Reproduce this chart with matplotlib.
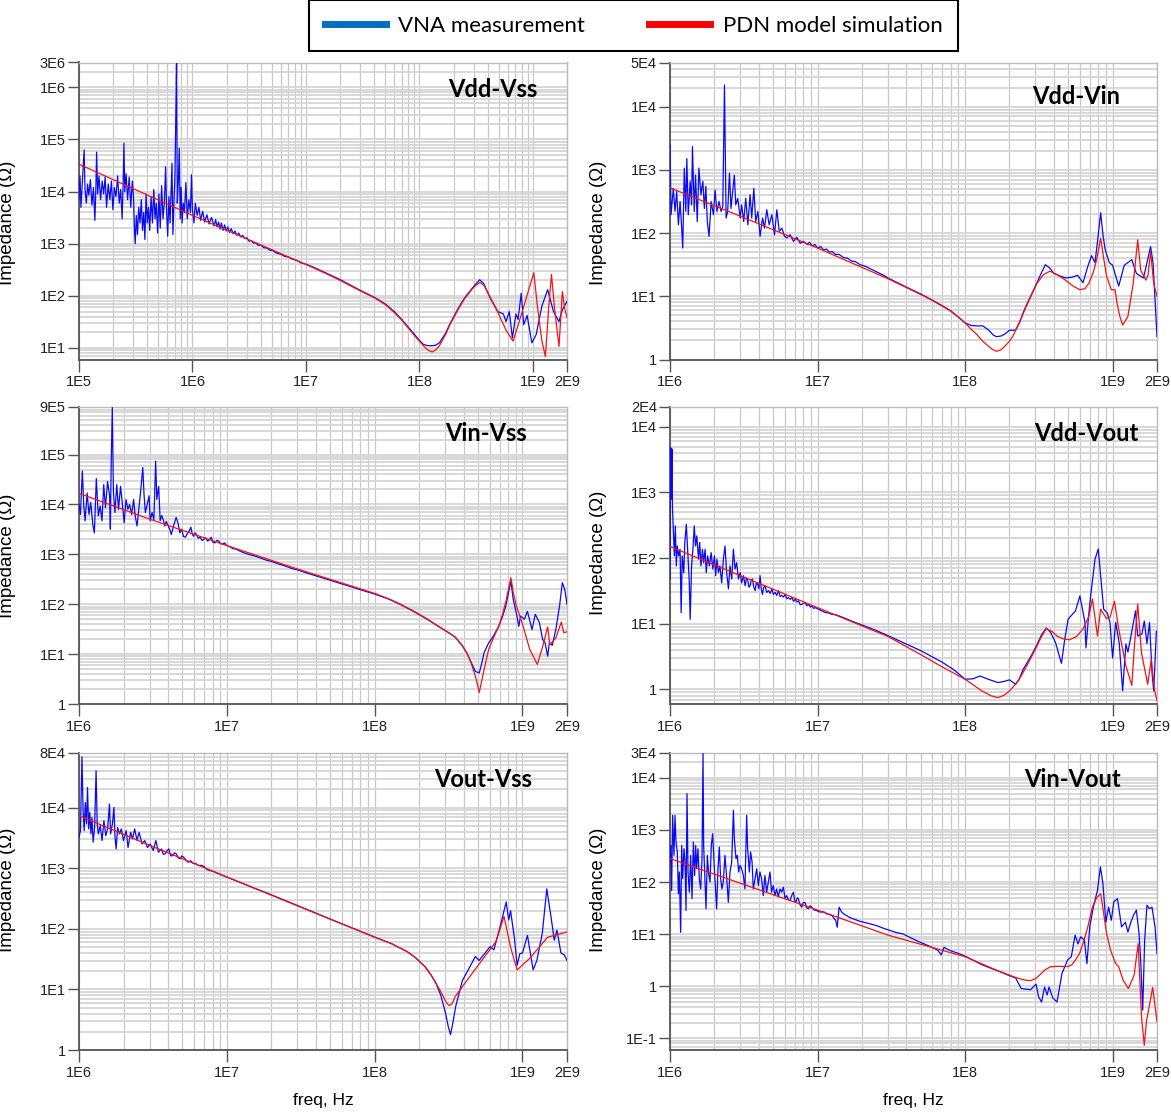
"""Impedance vs frequency: VNA measurement vs PDN model, six port pairs."""

import numpy as np
import matplotlib
matplotlib.use("Agg")
import matplotlib.pyplot as plt  # noqa: E402
from matplotlib.lines import Line2D  # noqa: E402
from matplotlib.ticker import FixedLocator, FuncFormatter, LogLocator, NullFormatter  # noqa: E402

# ---- data: (freq Hz, impedance Ohm) ----
VDD_VSS_MEAS = [
    (1.00e5, 7.0e3), (1.02e5, 2.0e4), (1.04e5, 5.0e3), (1.07e5, 1.5e4), (1.11e5, 6.3e4),
    (1.13e5, 1.1e4), (1.16e5, 6.0e3), (1.19e5, 1.4e4), (1.22e5, 8.5e3), (1.26e5, 1.7e4),
    (1.30e5, 5.5e3), (1.34e5, 1.2e4), (1.38e5, 2.8e3), (1.41e5, 1.3e4), (1.43e5, 5.7e4),
    (1.46e5, 9.0e3), (1.50e5, 2.0e4), (1.55e5, 7.0e3), (1.60e5, 1.6e4), (1.65e5, 9.0e3),
    (1.70e5, 1.9e4), (1.75e5, 5.0e3), (1.81e5, 1.4e4), (1.87e5, 7.0e3), (1.93e5, 1.6e4),
    (1.99e5, 4.5e3), (2.05e5, 1.2e4), (2.12e5, 8.0e3), (2.19e5, 2.0e4), (2.26e5, 6.0e3),
    (2.33e5, 1.1e4), (2.40e5, 3.0e3), (2.45e5, 1.5e4), (2.49e5, 8.5e4), (2.53e5, 1.0e4),
    (2.60e5, 2.2e4), (2.68e5, 7.0e3), (2.77e5, 1.9e4), (2.86e5, 5.0e3), (2.95e5, 1.6e4),
    (3.02e5, 8.0e3), (3.08e5, 2.0e3), (3.13e5, 1.0e3), (3.20e5, 3.5e3), (3.28e5, 1.5e3),
    (3.36e5, 5.0e3), (3.45e5, 2.5e3), (3.54e5, 7.0e3), (3.63e5, 1.8e3), (3.72e5, 4.0e3),
    (3.81e5, 1.2e3), (3.90e5, 9.0e3), (4.00e5, 2.5e3), (4.10e5, 5.0e3), (4.20e5, 1.8e3),
    (4.32e5, 8.0e3), (4.44e5, 2.5e3), (4.56e5, 1.1e4), (4.68e5, 3.0e3), (4.80e5, 6.0e3),
    (4.93e5, 1.6e3), (5.06e5, 9.0e3), (5.20e5, 2.0e3), (5.35e5, 1.3e4), (5.50e5, 3.0e3),
    (5.65e5, 6.0e3), (5.80e5, 3.0e4), (5.92e5, 4.0e3), (6.05e5, 1.4e3), (6.20e5, 8.0e3),
    (6.35e5, 2.5e3), (6.50e5, 1.2e4), (6.60e5, 3.5e4), (6.72e5, 1.5e3), (6.85e5, 5.0e3),
    (7.00e5, 2.0e4), (7.15e5, 3.4e5), (7.25e5, 3.0e6), (7.35e5, 6.0e3), (7.50e5, 1.5e4),
    (7.65e5, 6.8e4), (7.80e5, 3.0e3), (7.95e5, 1.2e4), (8.10e5, 2.5e3), (8.30e5, 6.0e3),
    (8.50e5, 4.0e3), (8.75e5, 1.5e4), (9.00e5, 3.0e3), (9.30e5, 7.0e3), (9.60e5, 4.0e3),
    (9.80e5, 2.1e4), (1.00e6, 4.5e3), (1.03e6, 2.5e3), (1.06e6, 6.0e3), (1.10e6, 3.5e3),
    (1.14e6, 5.0e3), (1.18e6, 2.8e3), (1.23e6, 4.2e3), (1.28e6, 2.6e3), (1.34e6, 3.6e3),
    (1.40e6, 2.4e3), (1.47e6, 3.2e3), (1.55e6, 2.2e3), (1.60e6, 2.9e3), (1.65e6, 2.1e3),
    (1.70e6, 2.6e3), (1.75e6, 1.9e3), (1.80e6, 2.5e3), (1.86e6, 1.8e3), (1.92e6, 2.3e3),
    (1.98e6, 1.75e3), (2.05e6, 2.1e3), (2.12e6, 1.65e3), (2.20e6, 1.95e3), (2.28e6, 1.55e3),
    (2.37e6, 1.75e3), (2.46e6, 1.45e3), (2.56e6, 1.6e3), (2.66e6, 1.35e3), (2.77e6, 1.45e3),
    (2.90e6, 1.25e3), (3.02e6, 1.3e3), (3.15e6, 1.12e3), (3.30e6, 1.15e3), (3.45e6, 1.02e3),
    (3.60e6, 1.05e3), (3.80e6, 930), (4.00e6, 950), (4.25e6, 840), (4.50e6, 830),
    (4.80e6, 750), (5.10e6, 740), (5.50e6, 660), (6.00e6, 630), (6.50e6, 570), (7.00e6, 555),
    (7.60e6, 505), (8.30e6, 480), (9.00e6, 430), (1.0e7, 405), (1.2e7, 345), (1.5e7, 275),
    (2.0e7, 205), (3.0e7, 128), (4.0e7, 94), (5.0e7, 70), (6.0e7, 50), (7.0e7, 35),
    (8.0e7, 25), (9.0e7, 18.5), (1.0e8, 14), (1.08e8, 11.8), (1.15e8, 11.2), (1.25e8, 11.0),
    (1.38e8, 11.2), (1.5e8, 12.5), (1.7e8, 19), (1.86e8, 29), (2.2e8, 58), (2.5e8, 91),
    (3.0e8, 150), (3.4e8, 204), (3.7e8, 170), (4.2e8, 91), (4.9e8, 50), (5.5e8, 45),
    (5.8e8, 32), (6.2e8, 50), (6.6e8, 15.5), (7.1e8, 45), (7.4e8, 35), (7.9e8, 112),
    (8.3e8, 28), (8.9e8, 42), (9.8e8, 12.5), (1.07e9, 18), (1.2e9, 63), (1.35e9, 131),
    (1.52e9, 50), (1.7e9, 32), (1.82e9, 54), (2.0e9, 78),
]
VDD_VSS_SIM = [
    (1.0e5, 3.35e4), (1.0e6, 3.5e3), (1.0e7, 400), (1.5e7, 268), (2.0e7, 198), (3.0e7, 125),
    (4.0e7, 92), (5.0e7, 68), (6.0e7, 48), (7.0e7, 34), (8.0e7, 24), (9.0e7, 17.5),
    (1.0e8, 13.5), (1.12e8, 10.2), (1.22e8, 8.8), (1.3e8, 8.4), (1.4e8, 9.2), (1.5e8, 11),
    (1.7e8, 18), (1.86e8, 28), (2.2e8, 55), (2.5e8, 88), (3.0e8, 145), (3.4e8, 181),
    (3.7e8, 160), (4.2e8, 95), (4.8e8, 54), (5.8e8, 22), (6.7e8, 13.5), (8.0e8, 47),
    (9.2e8, 131), (1.02e9, 277), (1.1e9, 60), (1.2e9, 14), (1.29e9, 6.8), (1.38e9, 60),
    (1.46e9, 257), (1.55e9, 60), (1.7e9, 10.7), (1.82e9, 120), (1.9e9, 60), (2.0e9, 38),
]

VDD_VIN_MEAS = [
    (1.00e6, 2.5e3), (1.016e6, 195), (1.053e6, 510), (1.081e6, 220), (1.11e6, 455),
    (1.14e6, 135), (1.17e6, 316), (1.20e6, 120), (1.22e6, 58), (1.25e6, 1070), (1.28e6, 220),
    (1.30e6, 1510), (1.33e6, 195), (1.37e6, 660), (1.40e6, 280), (1.42e6, 2340), (1.46e6, 220),
    (1.49e6, 830), (1.53e6, 152), (1.57e6, 1070), (1.62e6, 405), (1.67e6, 660), (1.71e6, 245),
    (1.75e6, 550), (1.79e6, 152), (1.84e6, 89), (1.90e6, 316), (1.97e6, 195), (2.02e6, 480),
    (2.08e6, 220), (2.15e6, 316), (2.22e6, 220), (2.28e6, 263), (2.34e6, 2.2e4), (2.36e6, 4.0e3),
    (2.40e6, 173), (2.46e6, 220), (2.53e6, 890), (2.59e6, 245), (2.66e6, 455), (2.73e6, 830),
    (2.79e6, 280), (2.88e6, 355), (2.99e6, 173), (3.06e6, 280), (3.16e6, 152), (3.26e6, 355),
    (3.37e6, 135), (3.49e6, 405), (3.58e6, 173), (3.70e6, 510), (3.81e6, 152), (3.94e6, 220),
    (4.08e6, 89), (4.24e6, 173), (4.37e6, 120), (4.53e6, 234), (4.70e6, 135), (4.90e6, 195),
    (5.11e6, 94), (5.30e6, 234), (5.50e6, 107), (5.73e6, 120), (5.97e6, 89), (6.19e6, 84),
    (6.52e6, 94), (6.87e6, 74), (7.24e6, 86), (7.63e6, 69), (8.04e6, 74), (8.5e6, 66),
    (8.8e6, 72), (9.2e6, 63), (9.6e6, 66), (1.0e7, 58), (1.05e7, 61), (1.1e7, 54),
    (1.15e7, 56), (1.2e7, 50), (1.26e7, 51), (1.32e7, 46), (1.4e7, 46), (1.5e7, 41),
    (1.6e7, 40), (1.7e7, 36), (1.8e7, 35.5), (1.95e7, 31.5), (2.1e7, 30), (2.3e7, 27),
    (2.5e7, 24.5), (2.8e7, 21.5), (3.0e7, 19.5), (4.0e7, 14), (5.0e7, 10.9), (6.0e7, 8.7),
    (7.0e7, 7.1), (8.0e7, 5.9), (9.0e7, 4.7), (1.0e8, 3.8), (1.1e8, 3.45), (1.2e8, 3.4),
    (1.32e8, 3.4), (1.45e8, 2.9), (1.55e8, 2.45), (1.63e8, 2.3), (1.75e8, 2.35), (1.85e8, 2.5),
    (2.0e8, 2.9), (2.2e8, 2.9), (2.35e8, 3.9), (2.5e8, 5.8), (2.75e8, 9.5), (3.0e8, 14.5),
    (3.25e8, 22), (3.5e8, 31.6), (3.75e8, 28), (4.0e8, 23), (4.4e8, 21), (4.8e8, 19.5),
    (5.3e8, 20), (5.8e8, 21.5), (6.3e8, 16.4), (6.8e8, 30), (7.2e8, 44), (7.6e8, 34),
    (8.0e8, 95), (8.3e8, 210), (8.6e8, 95), (8.9e8, 55), (9.5e8, 34), (1.0e9, 31),
    (1.1e9, 14.5), (1.2e9, 31), (1.35e9, 38), (1.45e9, 23), (1.62e9, 19.5), (1.81e9, 61),
    (1.88e9, 34), (2.0e9, 2.3),
]
VDD_VIN_SIM = [
    (1e6, 520), (3e6, 185), (1e7, 58), (3e7, 19), (5e7, 10.7), (6e7, 8.6), (7e7, 7.0),
    (8e7, 5.8), (9e7, 4.7), (1e8, 3.8), (1.1e8, 3.0), (1.2e8, 2.5), (1.3e8, 2.0),
    (1.45e8, 1.6), (1.55e8, 1.42), (1.63e8, 1.35), (1.75e8, 1.42), (1.85e8, 1.6),
    (2.0e8, 1.95), (2.1e8, 2.3), (2.3e8, 3.6), (2.6e8, 6.9), (2.85e8, 11), (3.07e8, 16),
    (3.4e8, 22), (3.76e8, 25), (4.2e8, 22), (4.8e8, 18), (5.4e8, 14.5), (6.0e8, 12.7),
    (6.5e8, 13.2), (6.9e8, 16), (7.4e8, 24), (7.8e8, 38), (8.3e8, 83), (8.7e8, 40),
    (9.1e8, 21), (9.8e8, 12.7), (1.04e9, 12.7), (1.07e9, 7.9), (1.12e9, 4.8), (1.17e9, 3.5),
    (1.27e9, 4.8), (1.38e9, 16), (1.48e9, 78), (1.55e9, 26), (1.68e9, 18), (1.74e9, 22),
    (1.81e9, 51), (1.9e9, 16), (2e9, 10),
]

VIN_VSS_MEAS = [
    (1.0e6, 1.0e4), (1.023e6, 6.3e3), (1.053e6, 4.7e4), (1.078e6, 9.3e3), (1.10e6, 4.7e3),
    (1.135e6, 1.7e4), (1.169e6, 6.3e3), (1.20e6, 1.1e4), (1.24e6, 4.0e3), (1.27e6, 2.7e3),
    (1.31e6, 3.3e4), (1.35e6, 5.9e3), (1.39e6, 9.3e3), (1.43e6, 4.7e3), (1.47e6, 2.5e4),
    (1.51e6, 8.6e3), (1.56e6, 2.9e4), (1.61e6, 1.5e4), (1.63e6, 3.2e3), (1.65e6, 5.9e4),
    (1.68e6, 8.8e5), (1.71e6, 1.7e4), (1.75e6, 6.9e3), (1.80e6, 2.5e4), (1.85e6, 8.0e3),
    (1.91e6, 2.3e4), (1.96e6, 1.1e4), (2.02e6, 4.3e3), (2.08e6, 1.26e4), (2.14e6, 8.0e3),
    (2.20e6, 1.0e4), (2.27e6, 6.3e3), (2.34e6, 1.26e4), (2.40e6, 5.9e3), (2.47e6, 3.7e3),
    (2.55e6, 9.3e3), (2.62e6, 2.0e4), (2.70e6, 5.5e4), (2.75e6, 1.7e4), (2.81e6, 6.9e3),
    (2.91e6, 1.1e4), (2.98e6, 1.5e4), (3.03e6, 4.7e3), (3.12e6, 6.9e3), (3.21e6, 5.0e3),
    (3.30e6, 7.4e4), (3.36e6, 1.26e4), (3.46e6, 2.3e4), (3.54e6, 4.7e3), (3.62e6, 6.0e3),
    (3.71e6, 5.0e3), (3.81e6, 3.7e3), (3.89e6, 4.6e3), (3.97e6, 4.0e3), (4.11e6, 3.2e3),
    (4.21e6, 2.5e3), (4.36e6, 3.7e3), (4.54e6, 5.5e3), (4.67e6, 4.3e3), (4.81e6, 2.7e3),
    (4.94e6, 3.2e3), (5.09e6, 2.3e3), (5.24e6, 2.2e3), (5.40e6, 2.6e3), (5.55e6, 2.9e3),
    (5.71e6, 3.5e3), (5.83e6, 2.6e3), (5.95e6, 2.3e3), (6.10e6, 2.7e3), (6.23e6, 2.5e3),
    (6.40e6, 2.1e3), (6.60e6, 2.2e3), (6.80e6, 1.9e3), (7.0e6, 2.0e3), (7.2e6, 2.15e3),
    (7.41e6, 1.85e3), (7.6e6, 1.95e3), (7.85e6, 2.2e3), (8.05e6, 1.75e3), (8.3e6, 1.7e3),
    (8.55e6, 1.9e3), (8.8e6, 1.85e3), (9.05e6, 1.65e3), (9.3e6, 1.6e3), (9.65e6, 1.7e3),
    (1.0e7, 1.5e3), (1.05e7, 1.42e3), (1.1e7, 1.3e3), (1.15e7, 1.28e3), (1.2e7, 1.2e3),
    (1.3e7, 1.08e3), (1.4e7, 1.0e3), (1.55e7, 925), (1.7e7, 840), (1.85e7, 765), (2.0e7, 720),
    (2.25e7, 640), (2.5e7, 580), (2.75e7, 520), (3.0e7, 490), (3.5e7, 420), (4.0e7, 372),
    (5.0e7, 303), (6.0e7, 255), (7.0e7, 222), (8.5e7, 185), (1.0e8, 160), (1.25e8, 126),
    (1.5e8, 98), (1.8e8, 74), (2.24e8, 51), (2.7e8, 36), (3.1e8, 28), (3.5e8, 22),
    (3.9e8, 15), (4.2e8, 10.6), (4.5e8, 6.8), (4.8e8, 4.5), (5.1e8, 4.2), (5.3e8, 6.5),
    (5.5e8, 10.7), (5.9e8, 16.7), (6.4e8, 24), (6.9e8, 36), (7.3e8, 55), (7.7e8, 91),
    (8.35e8, 290), (8.65e8, 126), (9.17e8, 58), (9.44e8, 36), (9.7e8, 58), (1.03e9, 50),
    (1.08e9, 72), (1.16e9, 31), (1.22e9, 63), (1.30e9, 43), (1.37e9, 19.5), (1.42e9, 17),
    (1.48e9, 9.1), (1.52e9, 17), (1.59e9, 15), (1.68e9, 31), (1.78e9, 91), (1.86e9, 270),
    (1.93e9, 200), (2.0e9, 100),
]
VIN_VSS_SIM = [
    (1e6, 1.67e4), (3e6, 5.1e3), (1e7, 1.5e3), (3e7, 510), (1e8, 165), (1.25e8, 128),
    (1.5e8, 100), (1.8e8, 75), (2.24e8, 52), (2.7e8, 36), (3.1e8, 28), (3.5e8, 22),
    (3.9e8, 15), (4.2e8, 10.6), (4.5e8, 6.5), (4.8e8, 3.6), (5.0e8, 2.2), (5.1e8, 1.7),
    (5.3e8, 2.9), (5.5e8, 4.9), (5.9e8, 12.4), (6.4e8, 22), (6.9e8, 36), (7.3e8, 60),
    (7.7e8, 110), (8.35e8, 340), (8.7e8, 160), (9.1e8, 91), (1.0e9, 40), (1.12e9, 12.4),
    (1.26e9, 6.2), (1.37e9, 14.4), (1.48e9, 35), (1.53e9, 15.5), (1.68e9, 21), (1.83e9, 44),
    (1.9e9, 27), (2e9, 28),
]

VDD_VOUT_MEAS = [
    (1.0e6, 48), (1.01e6, 4.8e3), (1.02e6, 790), (1.03e6, 4.6e3), (1.04e6, 556),
    (1.053e6, 275), (1.07e6, 108), (1.087e6, 309), (1.104e6, 76), (1.12e6, 153),
    (1.145e6, 108), (1.17e6, 136), (1.19e6, 14.8), (1.21e6, 108), (1.24e6, 60), (1.26e6, 173),
    (1.29e6, 328), (1.32e6, 121), (1.35e6, 45), (1.37e6, 11.7), (1.40e6, 76), (1.43e6, 136),
    (1.46e6, 309), (1.49e6, 153), (1.52e6, 218), (1.56e6, 96), (1.59e6, 173), (1.62e6, 76),
    (1.66e6, 136), (1.69e6, 85), (1.73e6, 136), (1.76e6, 60), (1.80e6, 108), (1.85e6, 76),
    (1.90e6, 121), (1.95e6, 68), (2.0e6, 108), (2.04e6, 54), (2.08e6, 96), (2.13e6, 60),
    (2.18e6, 76), (2.24e6, 42), (2.30e6, 96), (2.36e6, 153), (2.42e6, 60), (2.49e6, 34),
    (2.55e6, 76), (2.62e6, 48), (2.69e6, 136), (2.76e6, 68), (2.83e6, 85), (2.91e6, 48),
    (2.99e6, 60), (3.06e6, 42), (3.15e6, 54), (3.23e6, 38), (3.30e6, 50), (3.37e6, 45),
    (3.43e6, 36), (3.49e6, 38), (3.55e6, 46), (3.62e6, 48), (3.70e6, 36), (3.78e6, 32),
    (3.85e6, 42), (3.93e6, 40), (4.00e6, 34), (4.08e6, 54), (4.15e6, 35), (4.23e6, 28),
    (4.32e6, 36), (4.41e6, 38), (4.52e6, 30), (4.65e6, 32), (4.78e6, 29), (4.90e6, 34),
    (5.03e6, 28), (5.16e6, 30), (5.30e6, 27), (5.44e6, 32), (5.58e6, 26), (5.73e6, 27),
    (5.88e6, 25.5), (6.03e6, 28), (6.20e6, 24), (6.36e6, 25), (6.53e6, 23.5), (6.70e6, 25),
    (6.88e6, 22), (7.06e6, 23.6), (7.25e6, 21.5), (7.44e6, 22.3), (7.63e6, 19.5),
    (7.83e6, 19.8), (8.05e6, 20.5), (8.25e6, 21), (8.47e6, 18.8), (8.70e6, 19.8),
    (8.93e6, 18), (9.16e6, 18.7), (9.4e6, 17.2), (9.65e6, 17.6), (1.017e7, 16.6),
    (1.07e7, 15.7), (1.13e7, 14.8), (1.19e7, 14.6), (1.25e7, 13.9), (1.32e7, 13.8),
    (1.39e7, 13.2), (1.50e7, 12.4), (1.7e7, 11.0), (2.0e7, 9.6), (2.5e7, 7.9), (3.0e7, 6.6),
    (4.0e7, 4.9), (5.0e7, 3.9), (7.0e7, 2.6), (8.5e7, 1.95), (1.0e8, 1.43), (1.13e8, 1.45),
    (1.26e8, 1.6), (1.45e8, 1.42), (1.67e8, 1.27), (1.85e8, 1.33), (2.0e8, 1.4), (2.2e8, 1.2),
    (2.32e8, 1.4), (2.47e8, 2.0), (2.75e8, 3.0), (3.0e8, 4.3), (3.3e8, 6.8), (3.55e8, 8.6),
    (3.8e8, 7.4), (4.1e8, 5.2), (4.5e8, 2.5), (4.75e8, 6.0), (5.0e8, 11.8), (5.6e8, 15.7),
    (6.0e8, 26.5), (6.3e8, 15), (6.5e8, 10.5), (6.6e8, 4.3), (6.85e8, 12), (7.1e8, 26.5),
    (7.6e8, 96), (8.0e8, 138), (8.3e8, 53), (8.7e8, 16.7), (9.2e8, 14.6), (9.6e8, 10.5),
    (1.0e9, 3.0), (1.05e9, 10.5), (1.11e9, 5.0), (1.17e9, 0.95), (1.23e9, 4.9),
    (1.27e9, 3.7), (1.34e9, 7.0), (1.43e9, 15.7), (1.48e9, 6.5), (1.58e9, 7.0), (1.64e9, 11),
    (1.71e9, 5.0), (1.78e9, 10.5), (1.85e9, 1.8), (1.9e9, 0.95), (1.98e9, 7.7), (2.0e9, 7.7),
]
VDD_VOUT_SIM = [
    (1e6, 150), (3e6, 54), (1e7, 17.6), (3e7, 6.4), (5e7, 3.4), (7e7, 2.2), (1e8, 1.43),
    (1.15e8, 1.15), (1.3e8, 0.95), (1.5e8, 0.8), (1.67e8, 0.75), (1.85e8, 0.82),
    (2.0e8, 0.95), (2.2e8, 1.2), (2.4e8, 1.6), (2.7e8, 2.6), (3.0e8, 4.1), (3.3e8, 6.4),
    (3.55e8, 8.4), (3.9e8, 7.6), (4.2e8, 6.5), (4.6e8, 5.9), (5.1e8, 5.7), (5.7e8, 6.4),
    (6.3e8, 8.3), (6.9e8, 13), (7.3e8, 24), (7.9e8, 6.5), (8.3e8, 16.7), (9.1e8, 12),
    (9.6e8, 12.6), (1.03e9, 22), (1.1e9, 8.3), (1.23e9, 2.3), (1.35e9, 1.15), (1.4e9, 4.1),
    (1.48e9, 20), (1.57e9, 3.6), (1.73e9, 1.2), (1.83e9, 2.9), (1.92e9, 1.0), (2e9, 0.67),
]

VOUT_VSS_MEAS = [
    (1.0e6, 3.25e3), (1.023e6, 4.18e3), (1.047e6, 6.9e4), (1.066e6, 8.9e3), (1.084e6, 4.18e3),
    (1.103e6, 1.22e4), (1.123e6, 5.4e3), (1.142e6, 2.16e4), (1.162e6, 4.46e3), (1.183e6, 8.4e3),
    (1.203e6, 3.7e3), (1.224e6, 6.9e3), (1.246e6, 2.7e3), (1.275e6, 4.7e3), (1.305e6, 4.06e4),
    (1.328e6, 5.4e3), (1.351e6, 3.7e3), (1.391e6, 5.06e3), (1.432e6, 2.87e3), (1.474e6, 6.1e3),
    (1.517e6, 3.46e3), (1.561e6, 4.46e3), (1.607e6, 1.15e4), (1.635e6, 3.7e3), (1.683e6, 5.4e3),
    (1.723e6, 1.01e4), (1.753e6, 3.25e3), (1.783e6, 2.09e3), (1.826e6, 4.7e3), (1.879e6, 3.7e3),
    (1.934e6, 4.46e3), (2.0e6, 2.87e3), (2.085e6, 4.18e3), (2.146e6, 2.2e3), (2.235e6, 3.93e3),
    (2.30e6, 3.05e3), (2.38e6, 4.46e3), (2.47e6, 2.87e3), (2.55e6, 3.93e3), (2.67e6, 2.52e3),
    (2.78e6, 2.87e3), (2.91e6, 2.2e3), (3.03e6, 2.52e3), (3.18e6, 1.96e3), (3.31e6, 2.87e3),
    (3.45e6, 1.84e3), (3.61e6, 2.09e3), (3.72e6, 1.7e3), (3.83e6, 1.73e3), (3.94e6, 1.95e3),
    (4.05e6, 2.09e3), (4.17e6, 1.6e3), (4.30e6, 1.62e3), (4.42e6, 1.8e3), (4.55e6, 1.73e3),
    (4.68e6, 1.5e3), (4.82e6, 1.43e3), (4.96e6, 1.6e3), (5.11e6, 1.52e3), (5.30e6, 1.35e3),
    (5.48e6, 1.26e3), (5.70e6, 1.33e3), (5.90e6, 1.21e3), (6.15e6, 1.2e3), (6.44e6, 1.11e3),
    (6.72e6, 1.12e3), (7.02e6, 1.07e3), (7.33e6, 960), (7.66e6, 918), (8.1e6, 890),
    (8.6e6, 830), (9.3e6, 770), (1.0e7, 713), (1.2e7, 600), (1.5e7, 480), (2.0e7, 365),
    (3.0e7, 243), (5.0e7, 145), (1.0e8, 73), (1.3e8, 57), (1.66e8, 42), (1.9e8, 33),
    (2.2e8, 23.5), (2.4e8, 17.5), (2.6e8, 12.6), (2.8e8, 8.0), (3.02e8, 4.0), (3.15e8, 2.4),
    (3.26e8, 1.8), (3.38e8, 2.8), (3.53e8, 5.2), (3.92e8, 14), (4.4e8, 23.5), (4.8e8, 35),
    (5.08e8, 30), (5.54e8, 39), (6.04e8, 51), (6.4e8, 45), (7.19e8, 130), (7.75e8, 277),
    (8.07e8, 140), (8.3e8, 200), (8.8e8, 73), (9.2e8, 25), (9.6e8, 39), (1.0e9, 40),
    (1.08e9, 78), (1.18e9, 21), (1.25e9, 30), (1.36e9, 83), (1.46e9, 458), (1.57e9, 140),
    (1.64e9, 65), (1.71e9, 95), (1.82e9, 40), (1.92e9, 37), (2.0e9, 30),
]
VOUT_VSS_SIM = [
    (1e6, 7.4e3), (3e6, 2.4e3), (1e7, 720), (3e7, 240), (1e8, 73), (1.3e8, 57),
    (1.66e8, 42), (1.9e8, 33), (2.2e8, 23.5), (2.4e8, 17.5), (2.6e8, 12.6), (2.8e8, 9.2),
    (2.95e8, 7.1), (3.1e8, 5.8), (3.2e8, 5.4), (3.35e8, 5.9), (3.5e8, 7.6), (4.2e8, 14),
    (5.3e8, 30), (6.6e8, 61), (7.5e8, 160), (8.3e8, 50), (9.2e8, 21), (1.11e9, 32),
    (1.3e9, 50), (1.48e9, 73), (1.55e9, 75), (2e9, 89),
]

VIN_VOUT_MEAS = [
    (1.0e6, 250), (1.01e6, 507), (1.026e6, 69), (1.042e6, 1.91e3), (1.064e6, 326),
    (1.081e6, 1.91e3), (1.098e6, 588), (1.121e6, 378), (1.139e6, 60), (1.157e6, 156),
    (1.181e6, 10.9), (1.2e6, 507), (1.219e6, 116), (1.244e6, 438), (1.264e6, 243),
    (1.284e6, 28.5), (1.304e6, 5.0e3), (1.325e6, 156), (1.352e6, 64), (1.381e6, 326),
    (1.41e6, 48), (1.439e6, 588), (1.469e6, 134), (1.493e6, 507), (1.516e6, 180),
    (1.548e6, 438), (1.58e6, 116), (1.614e6, 74), (1.648e6, 281), (1.674e6, 3.0e4),
    (1.691e6, 507), (1.718e6, 156), (1.754e6, 30.7), (1.791e6, 326), (1.828e6, 145),
    (1.867e6, 100), (1.906e6, 507), (1.946e6, 851), (1.987e6, 243), (2.028e6, 86),
    (2.071e6, 30.7), (2.114e6, 180), (2.159e6, 471), (2.204e6, 116), (2.25e6, 74),
    (2.297e6, 100), (2.358e6, 326), (2.42e6, 125), (2.485e6, 41), (2.55e6, 156),
    (2.62e6, 243), (2.69e6, 2.39e3), (2.73e6, 681), (2.80e6, 281), (2.86e6, 326),
    (2.92e6, 156), (2.98e6, 209), (3.06e6, 180), (3.14e6, 134), (3.22e6, 74),
    (3.31e6, 1.91e3), (3.36e6, 438), (3.45e6, 156), (3.52e6, 378), (3.6e6, 243),
    (3.67e6, 74), (3.77e6, 116), (3.87e6, 180), (3.97e6, 86), (4.07e6, 156), (4.18e6, 116),
    (4.29e6, 55), (4.4e6, 134), (4.52e6, 64), (4.64e6, 100), (4.76e6, 156), (4.88e6, 64),
    (5.01e6, 86), (5.15e6, 55), (5.28e6, 74), (5.42e6, 52), (5.57e6, 74), (5.71e6, 64),
    (5.87e6, 80), (6.02e6, 48), (6.18e6, 55), (6.35e6, 46), (6.51e6, 44), (6.7e6, 56),
    (6.86e6, 64), (7.0e6, 44), (7.15e6, 41), (7.28e6, 50), (7.41e6, 48), (7.6e6, 37),
    (7.8e6, 33), (8.0e6, 40), (8.22e6, 41), (8.45e6, 32), (8.66e6, 30.7), (8.9e6, 35),
    (9.12e6, 33), (9.5e6, 29), (9.85e6, 28.5), (1.02e7, 27), (1.06e7, 26.5), (1.1e7, 27),
    (1.15e7, 24.6), (1.2e7, 24), (1.25e7, 22.9), (1.33e7, 18.3), (1.36e7, 13.6),
    (1.40e7, 33), (1.46e7, 26.5), (1.52e7, 24), (1.57e7, 22.9), (1.65e7, 21), (1.75e7, 19.7),
    (1.9e7, 18), (2.05e7, 17), (2.25e7, 15.8), (2.5e7, 14.7), (2.8e7, 13), (3.1e7, 11.8),
    (3.4e7, 10.8), (3.8e7, 10.1), (4.2e7, 8.8), (4.7e7, 7.5), (5.5e7, 6.2), (6.5e7, 5.0),
    (6.9e7, 4.0), (7.2e7, 5.6), (8.0e7, 4.8), (9.0e7, 4.3), (1.0e8, 3.8), (1.15e8, 3.1),
    (1.3e8, 2.6), (1.45e8, 2.3), (1.66e8, 2.0), (1.85e8, 1.75), (2.0e8, 1.6), (2.2e8, 1.45),
    (2.4e8, 0.91), (2.77e8, 0.86), (3.03e8, 1.1), (3.15e8, 0.63), (3.3e8, 0.5),
    (3.46e8, 0.97), (3.6e8, 0.68), (3.71e8, 0.97), (3.93e8, 0.6), (4.2e8, 0.5),
    (4.54e8, 1.77), (4.95e8, 3.2), (5.25e8, 3.7), (5.57e8, 9.6), (5.83e8, 6.5), (6.07e8, 8.9),
    (6.44e8, 7.7), (6.7e8, 2.7), (7.0e8, 13.8), (7.4e8, 33), (7.9e8, 70), (8.27e8, 196),
    (8.6e8, 93), (9.0e8, 17), (9.4e8, 33), (9.8e8, 18.5), (1.02e9, 42), (1.08e9, 48),
    (1.15e9, 13.8), (1.22e9, 17), (1.27e9, 11), (1.33e9, 17), (1.39e9, 23.5), (1.45e9, 29),
    (1.51e9, 10.4), (1.55e9, 3.2), (1.6e9, 0.35), (1.65e9, 7.8), (1.71e9, 36), (1.78e9, 31),
    (1.85e9, 33), (1.94e9, 13.8), (2.0e9, 4.3),
]
VIN_VOUT_SIM = [
    (1e6, 283), (3e6, 95), (1e7, 29), (3e7, 9.6), (1e8, 3.7), (1.3e8, 2.7), (1.66e8, 2.0),
    (2.2e8, 1.48), (2.5e8, 1.33), (2.76e8, 1.28), (3.0e8, 1.4), (3.2e8, 1.64), (3.5e8, 2.1),
    (3.8e8, 2.37), (4.2e8, 2.42), (5.0e8, 2.4), (5.3e8, 2.6), (5.6e8, 3.2), (6.0e8, 4.4),
    (6.3e8, 6.6), (6.8e8, 14), (7.3e8, 33), (7.8e8, 50), (8.3e8, 60), (8.7e8, 25),
    (9.1e8, 10.3), (9.7e8, 4.9), (1.05e9, 2.7), (1.1e9, 2.4), (1.18e9, 1.3), (1.28e9, 0.91),
    (1.4e9, 1.64), (1.49e9, 6.6), (1.57e9, 0.26), (1.64e9, 0.074), (1.7e9, 0.22),
    (1.87e9, 0.95), (2e9, 0.21),
]

TITLES = ["Vdd-Vss", "Vdd-Vin", "Vin-Vss", "Vdd-Vout", "Vout-Vss", "Vin-Vout"]
XLIMS = [(1e5, 2e9), (1e6, 2e9), (1e6, 2e9), (1e6, 2e9), (1e6, 2e9), (1e6, 2e9)]
YLIMS = [(6, 3e6), (1, 5e4), (1, 9e5), (0.6, 2e4), (1, 8e4), (0.06, 3e4)]
YTICKS = [
    [1e1, 1e2, 1e3, 1e4, 1e5, 1e6, 3e6],
    [1, 1e1, 1e2, 1e3, 1e4, 5e4],
    [1, 1e1, 1e2, 1e3, 1e4, 1e5, 9e5],
    [1, 1e1, 1e2, 1e3, 1e4, 2e4],
    [1, 1e1, 1e2, 1e3, 1e4, 8e4],
    [1e-1, 1, 1e1, 1e2, 1e3, 1e4, 3e4],
]
XTICKS_WIDE = [1e5, 1e6, 1e7, 1e8, 1e9, 2e9]
XTICKS = [1e6, 1e7, 1e8, 1e9, 2e9]

MEAS = [VDD_VSS_MEAS, VDD_VIN_MEAS, VIN_VSS_MEAS, VDD_VOUT_MEAS, VOUT_VSS_MEAS, VIN_VOUT_MEAS]
SIM = [VDD_VSS_SIM, VDD_VIN_SIM, VIN_VSS_SIM, VDD_VOUT_SIM, VOUT_VSS_SIM, VIN_VOUT_SIM]

# ---- layout (figure fractions) ----
W, H = 1171, 1117
COL_X = [79 / W, 670 / W]
COL_W = [488 / W, 487 / W]
ROW_Y = [1 - 359.5 / H, 1 - 704 / H, 1 - 1050 / H]
ROW_H = 297 / H
TITLE_X = [0.94, 0.924, 0.918, 0.962, 0.928, 0.926]
TITLE_Y = [0.91, 0.885, 0.91, 0.91, 0.91, 0.91]
YLABEL_Y = [0.46, 0.46, 0.5, 0.51, 0.54, 0.54]

BLUE = "#0a0af5"
RED = "#f01414"
AXIS = "#555555"
GRID = "#c8c8c8"
TICK_FONT = "Liberation Sans"


def e_fmt(v, _pos=None):
    exp = int(np.floor(np.log10(v) + 1e-9))
    mant = int(round(v / 10 ** exp))
    if exp == 0 and mant == 1:
        return "1"
    return f"{mant}E{exp}"


fig = plt.figure(figsize=(W / 100, H / 100), dpi=100)

for i in range(6):
    r, c = divmod(i, 2)
    ax = fig.add_axes([COL_X[c], ROW_Y[r], COL_W[c], ROW_H])
    ax.set_xscale("log")
    ax.set_yscale("log")

    fm, zm = np.array(MEAS[i]).T
    fs, zs = np.array(SIM[i]).T
    ax.plot(fm, zm, color=BLUE, lw=0.9, zorder=3)
    ax.plot(fs, zs, color=RED, lw=0.9, zorder=4)

    ax.set_xlim(*XLIMS[i])
    ax.set_ylim(*YLIMS[i])

    ax.xaxis.set_major_locator(FixedLocator(XTICKS_WIDE if i == 0 else XTICKS))
    ax.yaxis.set_major_locator(FixedLocator(YTICKS[i]))
    ax.xaxis.set_major_formatter(FuncFormatter(e_fmt))
    ax.yaxis.set_major_formatter(FuncFormatter(e_fmt))
    ax.xaxis.set_minor_locator(LogLocator(base=10, subs=np.arange(2, 10), numticks=30))
    ax.yaxis.set_minor_locator(LogLocator(base=10, subs=np.arange(2, 10), numticks=30))
    ax.xaxis.set_minor_formatter(NullFormatter())
    ax.yaxis.set_minor_formatter(NullFormatter())

    ax.grid(which="both", axis="x", color=GRID, lw=0.9)
    ax.grid(which="both", axis="y", color="#d6d6d6", lw=1.3)
    ax.set_axisbelow(True)

    ax.tick_params(which="minor", length=0)
    ax.tick_params(axis="x", which="major", length=8.5, width=1, color=AXIS, pad=3,
                   labelsize=10.5, labelcolor="#222222")
    ax.tick_params(axis="y", which="major", length=8, width=1, color=AXIS, pad=1.5,
                   labelsize=10.5, labelcolor="#222222")
    for lab in ax.get_xticklabels() + ax.get_yticklabels():
        lab.set_family(TICK_FONT)

    for side in ("left", "bottom"):
        ax.spines[side].set_color(AXIS)
        ax.spines[side].set_linewidth(1.3)
    for side in ("top", "right"):
        ax.spines[side].set_color("#bcbcbc")
        ax.spines[side].set_linewidth(1.0)

    ax.set_ylabel("Impedance (Ω)", family=TICK_FONT, fontsize=13.5)
    ax.yaxis.set_label_coords(-0.13, YLABEL_Y[i])
    if r == 2:
        ax.set_xlabel("freq, Hz", family=TICK_FONT, fontsize=12.5)
        ax.xaxis.set_label_coords(0.5, -0.145)

    ax.text(TITLE_X[i], TITLE_Y[i], TITLES[i], transform=ax.transAxes, ha="right",
            va="center", fontsize=17, fontweight="bold", family="Lato", zorder=6)

handles = [Line2D([], [], color="#0070c0", lw=5), Line2D([], [], color="#ff0000", lw=5)]
leg = fig.legend(handles, ["VNA measurement", "PDN model simulation"], loc="center",
                 bbox_to_anchor=(633.5 / W, 1 - 25.5 / H), ncol=2, frameon=True,
                 fancybox=False, edgecolor="black", framealpha=1, handlelength=2.75,
                 handletextpad=0.55, columnspacing=2.9, borderpad=0.7,
                 prop={"family": "Lato", "size": 16})
leg.get_frame().set_linewidth(1.5)

fig.savefig("out.png", dpi=100)
